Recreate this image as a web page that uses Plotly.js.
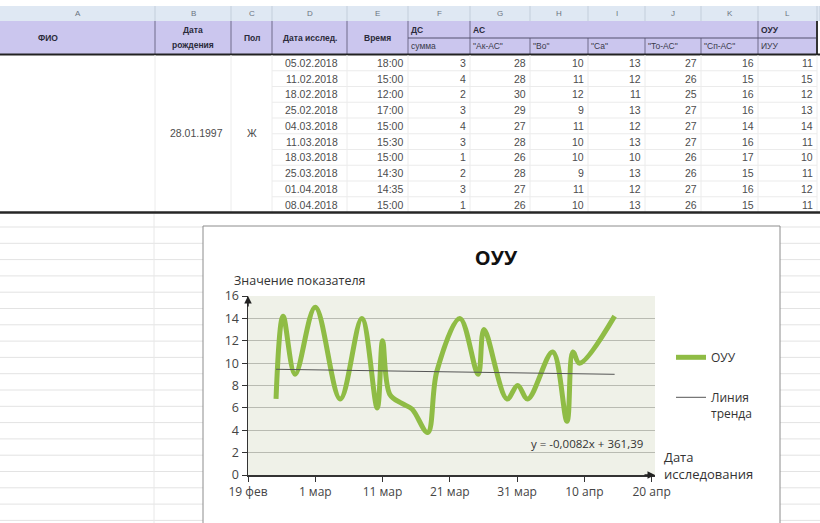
<!DOCTYPE html>
<html><head><meta charset="utf-8">
<script src="https://cdn.plot.ly/plotly-3.0.1.min.js"></script>
<style>html,body{margin:0;padding:0;background:#fff}#chart{width:820px;height:523px}</style>
</head><body><div id="chart"></div>
<script>
// ---------- chart data ----------
const lineDates = ['2018-02-23 04:00','2018-02-24 05:00','2018-02-26 00:00','2018-03-01 00:00','2018-03-04 17:00',
  '2018-03-07 22:00','2018-03-10 05:00','2018-03-11 00:00','2018-03-12 02:00','2018-03-13 21:00','2018-03-15 09:00',
  '2018-03-17 17:00','2018-03-19 02:00','2018-03-22 12:00','2018-03-25 05:00','2018-03-26 02:00','2018-03-29 12:00',
  '2018-03-31 02:00','2018-04-01 14:00','2018-04-05 07:00','2018-04-07 10:00','2018-04-08 07:00','2018-04-09 07:00',
  '2018-04-14 12:00'];
const lineValues = [6.8,14.2,9,15,6.8,14,6,12,7.2,6.4,5.9,3.8,9.3,14,9,13,6.8,8,6.8,11,4.8,11,10,14.2];
const trendDates = ['2018-02-23 04:00','2018-04-14 12:00'];
const trendValues = [9.45, 9.0];
const trendEquation = 'y = -0,0082x + 361,39';
const xTickVals = ['2018-02-19','2018-03-01','2018-03-11','2018-03-21','2018-03-31','2018-04-10','2018-04-20'];
const xTickText = ['19 фев','1 мар','11 мар','21 мар','31 мар','10 апр','20 апр'];
const yTickVals = [0,2,4,6,8,10,12,14,16];

// ---------- table data ----------
const colLetters = ['A','B','C','D','E','F','G','H','I','J','K','L'];
const birthDate = '28.01.1997';
const sex = 'Ж';
const studyDates = ['05.02.2018','11.02.2018','18.02.2018','25.02.2018','04.03.2018','11.03.2018','18.03.2018','25.03.2018','01.04.2018','08.04.2018'];
const studyTimes = ['18:00','15:00','12:00','17:00','15:00','15:30','15:00','14:30','14:35','15:00'];
const dsSum = [3,4,2,3,4,3,1,2,3,1];
const akAc  = [28,28,30,29,27,28,26,28,27,26];
const vo    = [10,11,12,9,11,10,10,9,11,10];
const sa    = [13,12,11,13,12,13,10,13,12,13];
const toAc  = [27,26,25,27,27,27,26,26,27,26];
const spAc  = [16,15,16,16,14,16,17,15,16,15];
const iuu   = [11,15,12,13,14,11,10,11,12,11];
const subHeaders = ['сумма','"Ак-АС"','"Во"','"Са"','"То-АС"','"Сп-АС"','ИУУ'];

// ---------- geometry helpers ----------
const L=248, R=655, T=296, B=475;
const PW=R-L, PH=B-T;
const fx = x => (x-L)/PW;
const fy = y => (B-y)/PH;
const shapes = [], ann = [];
function rect(x0,y0,x1,y1,fill,lc,lw){
  shapes.push({type:'rect',xref:'paper',yref:'paper',x0:fx(x0),x1:fx(x1),y0:fy(y1),y1:fy(y0),
    fillcolor:fill||'rgba(0,0,0,0)',line:{color:lc||'rgba(0,0,0,0)',width:lw||0},layer:'below'});
}
function seg(x0,y0,x1,y1,c,w){
  shapes.push({type:'line',xref:'paper',yref:'paper',x0:fx(x0),x1:fx(x1),y0:fy(y0),y1:fy(y1),
    line:{color:c,width:w},layer:'below'});
}
function txt(x,y,s,size,color,anchor,fam){
  ann.push({xref:'paper',yref:'paper',x:fx(x),y:fy(y),text:s,showarrow:false,xanchor:anchor||'center',
    yanchor:'middle',borderpad:0,font:{family:fam||'Liberation Sans, Arial, sans-serif',size:size,color:color}});
}

// ---------- spreadsheet ----------
const edges = [0,155,231,272,347,408,470,530,588,645,701,758,817,820];
rect(0,6,820,21,'#dfe8f3');
for(let i=1;i<edges.length;i++) seg(edges[i],6,edges[i],21,'#c3cedb',1);
colLetters.forEach((c,i)=>txt((edges[i]+edges[i+1])/2,13.5,c,8,'#6a7380','center'));
rect(0,21,817,54,'#cbc6ee');
[155,231,272,347,408,470,758].forEach(x=>seg(x,21,x,54,'#6f6a8a',1));
[530,588,645,701].forEach(x=>seg(x,38,x,54,'#6f6a8a',1));
seg(408,38,817,38,'#55506e',1.2);
seg(817,21,817,54,'#333',2);
seg(0,54.5,820,54.5,'#222',2);
const hb = (s)=>'<b>'+s+'</b>';
const hc = '#2a2a3a';
txt(48,38,hb('ФИО'),8.5,hc);
txt(193,30,hb('Дата'),8.5,hc);
txt(193,45,hb('рождения'),8.5,hc);
txt(252,38,hb('Пол'),8.5,hc);
txt(310,38,hb('Дата исслед.'),8.5,hc);
txt(377,38,hb('Время'),8.5,hc);
txt(410,30,hb('ДС'),8.5,hc,'left');
txt(472,30,hb('АС'),8.5,hc,'left');
txt(760,30,hb('ОУУ'),8.5,hc,'left');
const subX = [410,472,532,590,647,703,760];
subHeaders.forEach((s,i)=>txt(subX[i],46,s,8.5,'#3a3a4a','left'));
const rowTop=55, rowH=15.75;
for(let r=1;r<studyDates.length;r++) seg(272,rowTop+r*rowH,817,rowTop+r*rowH,'#ebebeb',1);
[155,231,272,347,408,470,530,588,645,701,758,817].forEach(x=>seg(x,55,x,212,'#ececec',1));
const dc = '#4d4d4d';
txt(196,133,birthDate,10.5,dc);
txt(252,133,sex,10.5,dc);
const numCols = [dsSum,akAc,vo,sa,toAc,spAc,iuu];
const numRight = [467,527,585,642,698,755,814];
studyDates.forEach((d,r)=>{
  const yc = rowTop + rowH*(r+0.5);
  txt(339,yc,d,10.5,dc,'right');
  txt(404,yc,studyTimes[r],10.5,dc,'right');
  numCols.forEach((col,c)=>txt(numRight[c],yc,String(col[r]),10.5,dc,'right'));
});
seg(0,212.5,820,212.5,'#262626',2.5);
for(let y=227;y<=523;y+=16.3){ seg(0,y,203,y,'#e3e3e3',1); seg(780,y,820,y,'#e3e3e3',1); }
seg(154,214,154,523,'#e8e8e8',1);
rect(203,226,780,545,null,'#8c8c8c',1);

// ---------- chart annotations ----------
const cf = 'Open Sans, Noto Sans, sans-serif';
ann.push({xref:'paper',yref:'paper',x:fx(232),y:fy(280),text:'Значение показателя',showarrow:false,
  xanchor:'left',yanchor:'middle',font:{family:cf,size:12.5,color:'#333'}});
ann.push({xref:'paper',yref:'paper',x:fx(662),y:fy(465),text:'Дата<br>исследования',showarrow:false,align:'left',
  xanchor:'left',yanchor:'middle',font:{family:cf,size:13,color:'#333'}});
ann.push({xref:'paper',yref:'paper',x:fx(645),y:fy(443),text:trendEquation,showarrow:false,
  xanchor:'right',yanchor:'middle',font:{family:cf,size:11.5,color:'#333'}});
ann.push({xref:'paper',yref:'paper',x:0,y:1,ax:0,ay:12,showarrow:true,arrowhead:2,arrowsize:1,arrowwidth:1.5,arrowcolor:'#222',text:''});
ann.push({xref:'paper',yref:'paper',x:1,y:0,ax:-12,ay:0,showarrow:true,arrowhead:2,arrowsize:1,arrowwidth:1.5,arrowcolor:'#222',text:''});

const traces = [
  {x:lineDates,y:lineValues,type:'scatter',mode:'lines',name:'ОУУ',legendgroup:'a',
   line:{color:'#8fbc45',width:5,shape:'spline',smoothing:1},hoverinfo:'skip'},
  {x:trendDates,y:trendValues,type:'scatter',mode:'lines',name:'Линия<br>тренда',legendgroup:'b',
   line:{color:'#555',width:1},hoverinfo:'skip'}
];

const layout = {
  width:820,height:523,
  margin:{l:L,r:820-R,t:T,b:523-B,pad:0},
  paper_bgcolor:'#ffffff',plot_bgcolor:'#eff1e8',
  title:{text:'<b>ОУУ</b>',font:{family:cf,size:20,color:'#111'},xref:'container',yref:'container',
    x:496/820,xanchor:'center',y:1-258/523,yanchor:'middle'},
  xaxis:{type:'date',range:['2018-02-19','2018-04-20 12:00'],tickvals:xTickVals,ticktext:xTickText,
    ticks:'outside',ticklen:5,tickcolor:'#333',showline:true,linecolor:'#333',linewidth:1.5,
    showgrid:false,zeroline:false,tickfont:{family:cf,size:12,color:'#444'},fixedrange:true},
  yaxis:{range:[0,16],tickvals:yTickVals,ticks:'outside',ticklen:5,tickcolor:'#333',showline:true,
    linecolor:'#333',linewidth:1.5,showgrid:true,gridcolor:'#b9bbb2',gridwidth:1,zeroline:false,
    tickfont:{family:cf,size:12.5,color:'#444'},fixedrange:true},
  showlegend:true,
  legend:{x:fx(671),y:fy(343),xanchor:'left',yanchor:'top',bgcolor:'rgba(0,0,0,0)',
    font:{family:cf,size:12,color:'#333'},itemwidth:30,tracegroupgap:21,valign:'top'},
  shapes:shapes,annotations:ann
};
Plotly.newPlot('chart',traces,layout,{staticPlot:true,displayModeBar:false});
</script></body></html>
